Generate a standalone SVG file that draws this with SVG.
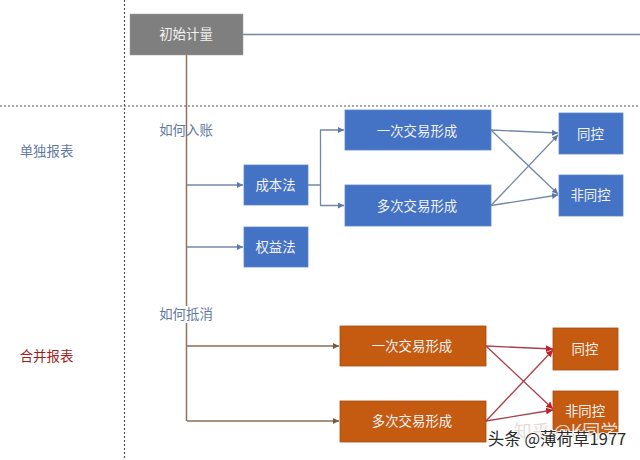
<svg xmlns="http://www.w3.org/2000/svg" width="640" height="460" viewBox="0 0 640 460">
<style>
text{font-family:"Noto Sans CJK SC","Liberation Sans",sans-serif;font-size:13.400px;text-anchor:middle;dominant-baseline:central}
.w{fill:#f2f2f2}
.g rect{fill:#7f7f7f;stroke:#a0a0a0;stroke-width:.5}
.b rect{fill:#4472c4;stroke:#5f88c8;stroke-width:.8}
.o rect{fill:#c55a11;stroke:#a84c10;stroke-width:.8}
.dash{fill:none;stroke:#555;stroke-width:1.2;stroke-dasharray:2 2}
.bl{fill:none;stroke:#7388a8;stroke-width:1.3}
.br{fill:none;stroke:#96705c;stroke-width:1.5}
.bn{fill:none;stroke:#8d6e52;stroke-width:1.3}
.rd{fill:none;stroke:#a8404a;stroke-width:1.3}
.lb{fill:#5f7ba0}
</style>
<defs>
<marker id="ab" markerWidth="7" markerHeight="7" refX="6" refY="3" orient="auto" markerUnits="userSpaceOnUse"><path d="M0 0L6 3L0 6Z" fill="#5b7aa8"/></marker>
<marker id="an" markerWidth="7" markerHeight="7" refX="6" refY="3" orient="auto" markerUnits="userSpaceOnUse"><path d="M0 0L6 3L0 6Z" fill="#7a5a3c"/></marker>
<marker id="ar" markerWidth="8" markerHeight="8" refX="7" refY="3.500" orient="auto" markerUnits="userSpaceOnUse"><path d="M0 0L7 3.500L0 7Z" fill="#c0202c"/></marker>
</defs>
<g id="guides">
<path class="dash" d="M124.500 0V460"/>
<path class="dash" d="M0 106H640"/>
</g>
<g id="connectors">
<path class="bl" d="M243 34.500H640"/>
<path class="br" d="M186.500 55V306M186.500 323V421"/>
<path class="bl" marker-end="url(#ab)" d="M187 185H243"/>
<path class="bl" marker-end="url(#ab)" d="M187 247H243"/>
<path class="bl" marker-end="url(#ab)" d="M308 185H320.500V130H344"/>
<path class="bl" marker-end="url(#ab)" d="M320.500 185V205.500H344"/>
<path class="bl" marker-end="url(#ab)" d="M491 130L558 133"/>
<path class="bl" marker-end="url(#ab)" d="M491 130L558 194"/>
<path class="bl" marker-end="url(#ab)" d="M491 205.500L558 135"/>
<path class="bl" marker-end="url(#ab)" d="M491 205.500L558 195"/>
<path class="bn" marker-end="url(#an)" d="M187 346H339"/>
<path class="bn" marker-end="url(#an)" d="M187 421H339"/>
<path class="rd" marker-end="url(#ar)" d="M486 346L553 349"/>
<path class="rd" marker-end="url(#ar)" d="M486 346L553 409"/>
<path class="rd" marker-end="url(#ar)" d="M486 421L553 350"/>
<path class="rd" marker-end="url(#ar)" d="M486 421L553 410"/>
</g>
<g id="n-init" class="g"><rect x="130" y="14" width="113" height="41"/><text class="w" x="186" y="33">初始计量</text></g>
<g id="l-single"><text class="lb" x="46.500" y="149.500">单独报表</text></g>
<g id="l-merge"><text x="46.500" y="355" fill="#a01c1c">合并报表</text></g>
<g id="l-entry"><text class="lb" x="186" y="129">如何入账</text></g>
<g id="l-offset"><text class="lb" x="186" y="312.500">如何抵消</text></g>
<g id="n-cost" class="b"><rect x="244" y="165" width="64" height="40"/><text class="w" x="275.500" y="184">成本法</text></g>
<g id="n-equity" class="b"><rect x="244" y="227" width="64" height="40"/><text class="w" x="275.500" y="246">权益法</text></g>
<g id="n-b1" class="b"><rect x="345" y="110" width="146" height="40"/><text class="w" x="417" y="129.500">一次交易形成</text></g>
<g id="n-b2" class="b"><rect x="345" y="185" width="146" height="41"/><text class="w" x="417" y="204.500">多次交易形成</text></g>
<g id="n-b3" class="b"><rect x="559" y="113" width="64" height="41"/><text class="w" x="590.500" y="132.500">同控</text></g>
<g id="n-b4" class="b"><rect x="559" y="175" width="64" height="41"/><text class="w" x="590.500" y="194">非同控</text></g>
<g id="n-o1" class="o"><rect x="340" y="326" width="146" height="40"/><text class="w" x="412" y="345">一次交易形成</text></g>
<g id="n-o2" class="o"><rect x="340" y="401" width="146" height="41"/><text class="w" x="412" y="420">多次交易形成</text></g>
<g id="n-o3" class="o"><rect x="553" y="328" width="65" height="42"/><text class="w" x="585" y="348">同控</text></g>
<g id="n-o4" class="o"><rect x="553" y="391" width="65" height="42"/><text class="w" x="585" y="410">非同控</text></g>
<g id="watermark">
<text x="566" y="430" fill="#e6ddd6" style="font-size:18px">知乎 @K同学</text>
<text x="557" y="438" fill="#2a2a2a" stroke="#fff" stroke-width="1.500" paint-order="stroke" style="font-size:16.500px">头条 @薄荷草1977</text>
</g>
</svg>
